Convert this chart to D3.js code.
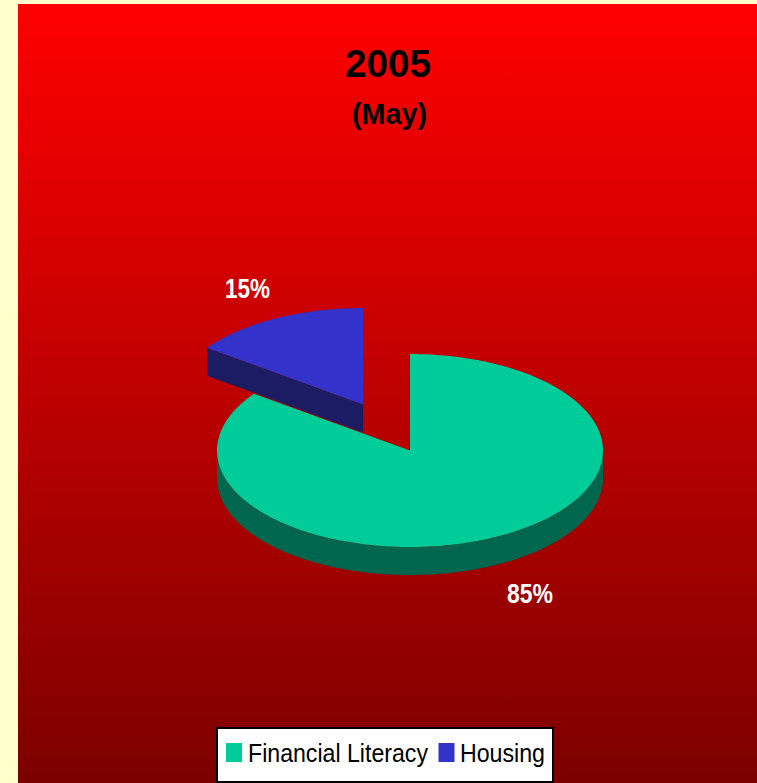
<!DOCTYPE html>
<html>
<head>
<meta charset="utf-8">
<script src="https://cdn.jsdelivr.net/npm/d3@7"></script>
<style>
  html, body { margin: 0; padding: 0; background: #FFFFCC; }
  svg { display: block; }
</style>
</head>
<body>
<script>
// ---- data ----
const categories = ["Financial Literacy", "Housing"];
const values = [85, 15];
const labels = ["85%", "15%"];
const explode = [0, 0.535];
const topColors = ["#00CC99", "#3333CC"];
const sideColors = ["#00664D", "#1C1C62"];
const titleText = "2005";
const subtitleText = "(May)";

// ---- layout ----
const W = 757, H = 783;
const cx = 410, cy = 450.5, rx = 193, ry = 96.5, depth = 28;

const svg = d3.select("body").append("svg").attr("width", W).attr("height", H);
const defs = svg.append("defs");
const grad = defs.append("linearGradient").attr("id", "bg").attr("x1", 0).attr("y1", 0).attr("x2", 0).attr("y2", 1);
grad.append("stop").attr("offset", "0%").attr("stop-color", "#FF0000");
grad.append("stop").attr("offset", "100%").attr("stop-color", "#7C0000");

svg.append("rect").attr("width", W).attr("height", H).attr("fill", "#FFFFCC");
svg.append("rect").attr("x", 18).attr("y", 4).attr("width", W - 18).attr("height", H - 4).attr("fill", "url(#bg)");

const font = "'Liberation Sans', Arial, sans-serif";

// titles
svg.append("text").attr("x", 388).attr("y", 77).attr("text-anchor", "middle")
  .attr("font-family", font).attr("font-weight", "bold").attr("font-size", 39)
  .attr("textLength", 86).attr("lengthAdjust", "spacingAndGlyphs")
  .attr("fill", "#000").text(titleText);
svg.append("text").attr("x", 389.5).attr("y", 124).attr("text-anchor", "middle")
  .attr("font-family", font).attr("font-weight", "bold").attr("font-size", 29)
  .attr("textLength", 75).attr("lengthAdjust", "spacingAndGlyphs")
  .attr("fill", "#000").text(subtitleText);

// ---- pie ----
const pie = d3.pie().sort(null).value(d => d.value);
const data = categories.map((c, i) => ({ name: c, value: values[i], i }));
const arcs = pie(data);

const xs = d3.scaleLinear().domain([-1, 1]).range([-rx, rx]);
const ys = d3.scaleLinear().domain([-1, 1]).range([-ry, ry]);

function pt(o, a, r, dz) {
  return [o[0] + xs(r * Math.sin(a)), o[1] + ys(-r * Math.cos(a)) + dz];
}

const slices = arcs.map(a => {
  const mid = (a.startAngle + a.endAngle) / 2;
  const e = explode[a.data.i];
  const o = [cx + xs(e * Math.sin(mid)), cy + ys(-e * Math.cos(mid))];
  return { a, mid, o };
}).sort((p, q) => (-Math.cos(p.mid)) - (-Math.cos(q.mid)));

const line = d3.line();
const pieG = svg.append("g");

slices.forEach(s => {
  const { a, o } = s;
  const i = a.data.i;
  const g = pieG.append("g");
  const a0 = a.startAngle, a1 = a.endAngle;
  // cut faces
  if (Math.sin(a0) < -1e-6) {
    const p = pt(o, a0, 1, 0);
    g.append("path").attr("d", line([o, p, [p[0], p[1] + depth], [o[0], o[1] + depth]]) + "Z")
      .attr("fill", sideColors[i]);
  }
  if (Math.sin(a1) > 1e-6) {
    const p = pt(o, a1, 1, 0);
    g.append("path").attr("d", line([o, p, [p[0], p[1] + depth], [o[0], o[1] + depth]]) + "Z")
      .attr("fill", sideColors[i]);
  }
  // outer side (front half: pi/2..3pi/2)
  const v0 = Math.max(a0, Math.PI / 2), v1 = Math.min(a1, 3 * Math.PI / 2);
  if (v1 > v0) {
    const n = 120;
    const topPts = d3.range(n + 1).map(k => pt(o, v0 + (v1 - v0) * k / n, 1, 0));
    const botPts = topPts.slice().reverse().map(p => [p[0], p[1] + depth]);
    g.append("path").attr("d", line(topPts.concat(botPts)) + "Z").attr("fill", sideColors[i]);
  }
  // top surface
  const n = Math.max(8, Math.ceil((a1 - a0) / (2 * Math.PI) * 360));
  const arcPts = d3.range(n + 1).map(k => pt(o, a0 + (a1 - a0) * k / n, 1, 0));
  g.append("path").attr("d", line([o].concat(arcPts)) + "Z").attr("fill", topColors[i]);
});

// data labels
const labelPos = [[530, 603, 46], [247.5, 298, 45]];
labels.forEach((t, i) => {
  svg.append("text").attr("x", labelPos[i][0]).attr("y", labelPos[i][1]).attr("text-anchor", "middle")
    .attr("font-family", font).attr("font-weight", "bold").attr("font-size", 27)
    .attr("textLength", labelPos[i][2]).attr("lengthAdjust", "spacingAndGlyphs")
    .attr("fill", "#FFFFFF").text(t);
});

// legend
const lg = svg.append("g");
lg.append("rect").attr("x", 217).attr("y", 728).attr("width", 336).attr("height", 54)
  .attr("fill", "#FFFFFF").attr("stroke", "#000").attr("stroke-width", 2);
const legItems = [
  { sx: 226, tx: 248, tl: 180 },
  { sx: 438.5, tx: 460, tl: 85 }
];
categories.forEach((c, i) => {
  lg.append("rect").attr("x", legItems[i].sx).attr("y", 743).attr("width", 16).attr("height", 19)
    .attr("fill", topColors[i]);
  lg.append("text").attr("x", legItems[i].tx).attr("y", 762)
    .attr("font-family", font).attr("font-size", 25)
    .attr("textLength", legItems[i].tl).attr("lengthAdjust", "spacingAndGlyphs")
    .attr("fill", "#000").text(c);
});
</script>
</body>
</html>
